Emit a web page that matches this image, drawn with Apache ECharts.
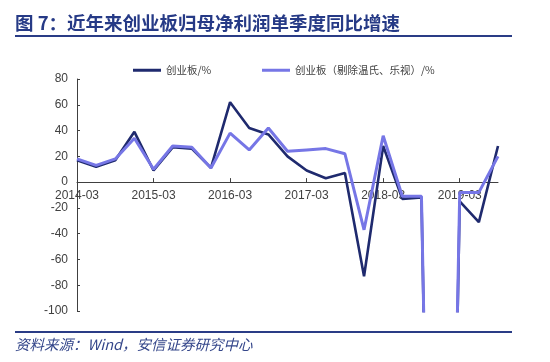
<!DOCTYPE html>
<html>
<head>
<meta charset="utf-8">
<script src="https://cdn.jsdelivr.net/npm/echarts@6/dist/echarts.min.js"></script>
<style>html,body{margin:0;padding:0;background:#fff;}#c{width:550px;height:362px;}</style>
</head>
<body>
<div id="c"></div>
<script>
const categories = ['2014-03','2014-06','2014-09','2014-12','2015-03','2015-06','2015-09','2015-12',
  '2016-03','2016-06','2016-09','2016-12','2017-03','2017-06','2017-09','2017-12',
  '2018-03','2018-06','2018-09','2018-12','2019-03','2019-06','2019-09'];
const seriesNames = ['创业板/%', '创业板（剔除温氏、乐视）/%'];
const gemAll = [17, 12, 17, 39, 9, 27, 26, 11, 62, 42, 37, 20, 9, 3, 7, -73, 28, -13, -12, -800, -15, -31, 28];
const gemExcl = [18, 13, 18, 34, 10, 28, 27, 11, 38, 25, 42, 24, 25, 26, 22, -37, 36, -11, -11, -780, -8, -8, 20];
const yTicks = {min: -100, max: 80, interval: 20};
const titleText = '图 7：近年来创业板归母净利润单季度同比增速';
const sourceText = '资料来源：Wind，安信证券研究中心';

const chart = echarts.init(document.getElementById('c'), null, {renderer: 'canvas'});
const axisColor = '#404040';
const legendText = {fontSize: 10.5, color: '#404040', fontFamily: 'Noto Sans CJK SC'};
const gridTop = 79, gridBottom = 51, chartH = 362;
const plotH = chartH - gridTop - gridBottom;
const zeroOffset = -plotH * (0 - yTicks.min) / (yTicks.max - yTicks.min);
chart.setOption({
  animation: false,
  backgroundColor: '#ffffff',
  grid: {left: 77, right: 52, top: gridTop, bottom: gridBottom, containLabel: false},
  legend: [
    {data: [seriesNames[0]], left: 133, top: 65, itemWidth: 28, itemHeight: 3, icon: 'rect', itemGap: 5, textStyle: legendText, padding: 0},
    {data: [seriesNames[1]], left: 262, top: 65, itemWidth: 28, itemHeight: 3, icon: 'rect', itemGap: 5, textStyle: legendText, padding: 0}
  ],
  xAxis: {
    type: 'category',
    data: categories,
    boundaryGap: false,
    position: 'bottom',
    offset: zeroOffset,
    axisLine: {onZero: false, lineStyle: {color: axisColor, width: 1}},
    axisTick: {show: true, inside: true, length: 4, interval: 3, lineStyle: {color: axisColor}},
    axisLabel: {interval: 3, color: '#404040', fontSize: 12, fontFamily: 'Liberation Sans', margin: 8},
    splitLine: {show: false}
  },
  yAxis: {
    type: 'value',
    min: yTicks.min, max: yTicks.max, interval: yTicks.interval,
    axisLine: {show: true, lineStyle: {color: axisColor, width: 1}},
    axisTick: {show: true, inside: true, length: 3, lineStyle: {color: axisColor}},
    axisLabel: {color: '#404040', fontSize: 12, fontFamily: 'Liberation Sans', margin: 9},
    splitLine: {show: false}
  },
  series: [
    {name: seriesNames[0], type: 'line', data: gemAll, showSymbol: false, symbol: 'none', clip: true,
     lineStyle: {color: '#1f2a6e', width: 2.6}, itemStyle: {color: '#1f2a6e'}},
    {name: seriesNames[1], type: 'line', data: gemExcl, showSymbol: false, symbol: 'none', clip: true,
     lineStyle: {color: '#7676e6', width: 3}, itemStyle: {color: '#7676e6'}}
  ],
  graphic: [
    {type: 'text', left: 15, top: 14, style: {text: titleText, fill: '#263a86', font: 'bold 18.5px "Noto Sans CJK SC"'}},
    {type: 'line', shape: {x1: 15, y1: 36, x2: 512, y2: 36}, style: {stroke: '#2a3c86', lineWidth: 2}},
    {type: 'line', shape: {x1: 15, y1: 332, x2: 512, y2: 332}, style: {stroke: '#2a3c86', lineWidth: 2}},
    {type: 'text', left: 15, top: 337, style: {text: sourceText, fill: '#34468a', font: 'italic 14.5px "Noto Sans CJK SC"'}}
  ]
});
</script>
</body>
</html>
